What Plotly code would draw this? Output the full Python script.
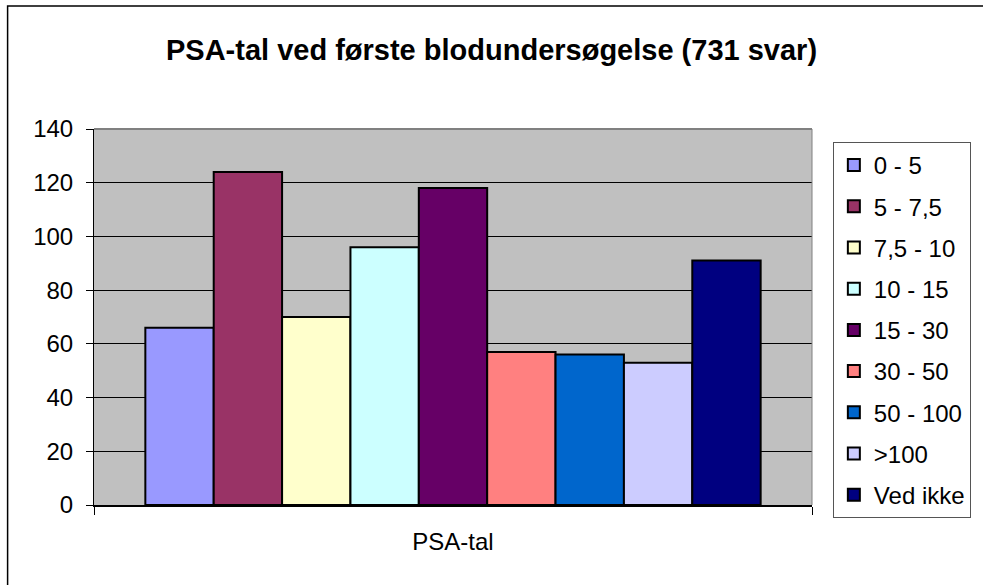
import plotly.graph_objects as go

category = ["PSA-tal"]
series_names = ["0 - 5", "5 - 7,5", "7,5 - 10", "10 - 15", "15 - 30", "30 - 50", "50 - 100", ">100", "Ved ikke"]
series_values = [66, 124, 70, 96, 118, 57, 56, 53, 91]
series_colors = ["#9999FF", "#993366", "#FFFFCC", "#CCFFFF", "#660066", "#FF8080", "#0066CC", "#CCCCFF", "#000080"]
y_ticks = [0, 20, 40, 60, 80, 100, 120, 140]

FONT = "Arial, 'Liberation Sans', sans-serif"

W, H = 983, 585
L, R, T, B = 94, 817, 129, 505

fig = go.Figure()
for i, (name, val, col) in enumerate(zip(series_names, series_values, series_colors)):
    fig.add_trace(go.Bar(
        x=category, y=[val], name=name, legendgroup=f"g{i}",
        marker=dict(color=col, line=dict(color="black", width=2)),
    ))

def px_x(x):
    return (x - L) / (R - L)

def px_y(y):
    return (B - y) / (B - T)

shapes = [
    dict(type="line", xref="paper", yref="paper", x0=0, x1=1, y0=1, y1=1,
         line=dict(color="#808080", width=2)),
    dict(type="line", xref="paper", yref="paper", x0=1, x1=1, y0=0, y1=1,
         line=dict(color="#808080", width=1)),
    dict(type="rect", xref="paper", yref="paper", x0=px_x(7), x1=px_x(1000),
         y0=px_y(620), y1=px_y(6), line=dict(color="black", width=1.5)),
]

fig.update_layout(
    width=W, height=H,
    margin=dict(l=L, r=W - R, t=T, b=H - B, pad=0),
    paper_bgcolor="white",
    plot_bgcolor="#C0C0C0",
    barmode="group", bargap=0.143, bargroupgap=0,
    font=dict(family=FONT, color="black", size=24),
    title=dict(text="<b>PSA-tal ved første blodundersøgelse (731 svar)</b>",
               x=0.5, xanchor="center", xref="container",
               y=1 - 50 / H, yanchor="middle", yref="container",
               font=dict(family=FONT, size=29, color="black")),
    showlegend=True,
    legend=dict(x=px_x(838), y=px_y(142), xanchor="left", yanchor="top",
                bgcolor="white", bordercolor="#555555", borderwidth=1,
                font=dict(family=FONT, size=24, color="black"),
                tracegroupgap=7, traceorder="grouped"),
    shapes=shapes,
)

fig.update_yaxes(range=[0, 140], tickvals=y_ticks, showgrid=True, gridcolor="black",
                 gridwidth=1, showline=True, linecolor="black", linewidth=1,
                 ticks="outside", ticklen=7, tickcolor="black", tickwidth=1,
                 ticklabelstandoff=8, zeroline=False,
                 tickfont=dict(family=FONT, size=24, color="black"))
fig.update_xaxes(showline=True, linecolor="black", linewidth=2,
                 ticks="outside", tickson="boundaries", ticklen=8, tickcolor="black",
                 tickwidth=1, ticklabelstandoff=14, showgrid=False,
                 tickfont=dict(family=FONT, size=24, color="black"))

fig.write_html("out.html", config={"displayModeBar": False},
               post_script="document.body.style.margin='0';")
